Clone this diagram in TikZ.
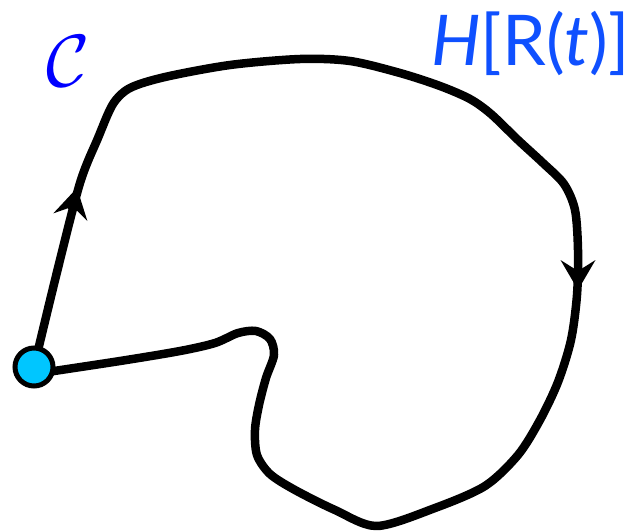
\documentclass[tikz,border=0pt]{standalone}
\usepackage{fontspec}
\newfontfamily\lato{Lato}
\usetikzlibrary{arrows.meta}
\definecolor{cblue}{RGB}{0,0,255}
\definecolor{hblue}{RGB}{15,80,255}
\definecolor{dotcyan}{RGB}{0,198,255}
\tikzset{
  curve/.style={line width=8.5pt, line join=round, line cap=round},
  tipup/.style={line width=8.5pt, -{Stealth[length=30pt,width=35pt,inset=11pt,line width=0pt]}},
  dotstyle/.style={circle, draw=black, line width=5pt, fill=dotcyan, minimum size=38pt, inner sep=0pt},
  lbl/.style={inner sep=0pt, outer sep=0pt}
}
\begin{document}
\begin{tikzpicture}[x=1pt,y=-1pt]
\useasboundingbox (0,0) rectangle (643,531);
\coordinate (d) at (34,367);
\draw[curve] plot[smooth, tension=0.5] coordinates {
 (34,367) (57,272) (80,183) (98,138) (113,104) (130,88) (165,77)
 (230,65) (300,59) (350,61) (400,73) (440,86) (470,99) (491,114)
 (518,140) (543,163) (564,184) (575,210) (578,250) (577,295)
 (571,340) (558,382) (540,420) (518,455) (485,486) (435,508)
 (377,526) (335,510) (295,490) (270,474) (257,455) (255,430)
 (259,405) (266,378) (274,355) (270,339) (256,331) (238,333)
 (215,343) (180,351) (120,361) (34,374)};
\coordinate (a1s) at (72,210);
\coordinate (a1e) at (77,188);
\draw[tipup] (a1s) -- (a1e);
\coordinate (a2s) at (578,265);
\coordinate (a2e) at (578,290);
\draw[tipup] (a2s) -- (a2e);
\node[dotstyle] (dot) at (d) {};
\node[lbl, text=cblue, scale=7.4] (clabel) at (68.5,61) {$\mathcal{C}$};
\node[lbl, text=hblue, anchor=base west, font=\fontsize{70}{80}\selectfont\lato] (hlabel) at (431,65) {\textit{H}[R(\textit{t})]};
\end{tikzpicture}
\end{document}
